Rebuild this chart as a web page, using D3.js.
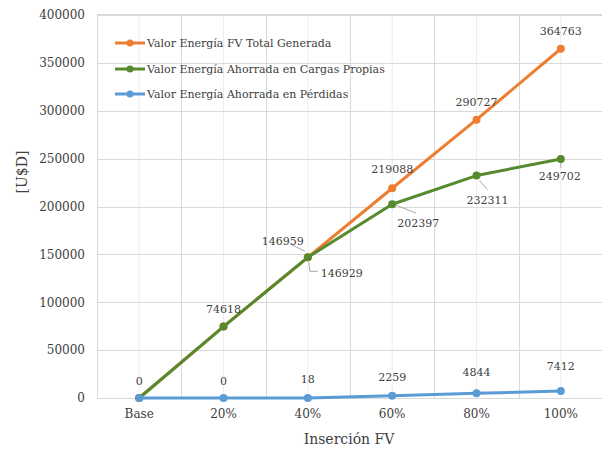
<!DOCTYPE html>
<html>
<head>
<meta charset="utf-8">
<script src="https://cdn.jsdelivr.net/npm/d3@7"></script>
<style>
  html, body { margin: 0; padding: 0; background: #fff; }
  svg { display: block; }
  text { font-family: "DejaVu Serif", "Liberation Serif", serif; fill: #404040; }
</style>
</head>
<body>
<svg id="chart" width="602" height="449"></svg>
<script>
// Categories and series values
const categories = ["Base", "20%", "40%", "60%", "80%", "100%"];
const totalGenerada = [0, 74618, 146959, 219088, 290727, 364763];
const ahorradaCargas = [0, 74618, 146929, 202397, 232311, 249702];
const ahorradaPerdidas = [0, 0, 18, 2259, 4844, 7412];
const yTicks = [0, 50000, 100000, 150000, 200000, 250000, 300000, 350000, 400000];
const seriesNames = [
  "Valor Energía FV Total Generada",
  "Valor Energía Ahorrada en Cargas Propias",
  "Valor Energía Ahorrada en Pérdidas"
];
const seriesColors = ["#ED7D31", "#558A2E", "#5B9BD5"];

const svg = d3.select("#chart");
const margin = { left: 97, top: 14, right: 603, bottom: 398 };

const x = d3.scaleBand().domain(categories).range([margin.left, margin.right]);
const xc = c => x(c) + x.bandwidth() / 2;
const y = d3.scaleLinear().domain([0, 400000]).range([margin.bottom, margin.top + 1]);

// Grid: minor verticals at category centres, major verticals at band edges
const grid = svg.append("g");
grid.selectAll(".vminor").data(categories).enter().append("line")
  .attr("x1", d => xc(d)).attr("x2", d => xc(d))
  .attr("y1", margin.top).attr("y2", margin.bottom)
  .attr("stroke", "#ececec").attr("stroke-width", 1);
const edges = categories.map(c => x(c)).concat([margin.right]);
grid.selectAll(".vmajor").data(edges).enter().append("line")
  .attr("x1", d => Math.round(d) + 0.5).attr("x2", d => Math.round(d) + 0.5)
  .attr("y1", margin.top).attr("y2", margin.bottom)
  .attr("stroke", "#d9d9d9").attr("stroke-width", 1);
grid.selectAll(".hmajor").data(yTicks.slice(1)).enter().append("line")
  .attr("x1", margin.left).attr("x2", margin.right)
  .attr("y1", d => Math.round(y(d)) + 0.5).attr("y2", d => Math.round(y(d)) + 0.5)
  .attr("stroke", "#d9d9d9").attr("stroke-width", 1);
grid.append("line")
  .attr("x1", margin.left).attr("x2", margin.right)
  .attr("y1", margin.top + 0.5).attr("y2", margin.top + 0.5)
  .attr("stroke", "#d9d9d9");

// Y axis
const yAxis = svg.append("g")
  .attr("transform", `translate(${margin.left - 12},0)`)
  .call(d3.axisLeft(y).tickValues(yTicks).tickSize(0).tickPadding(0).tickFormat(d3.format("d")));
yAxis.select(".domain").remove();
yAxis.selectAll("text").attr("font-size", 12).attr("fill", "#404040")
  .attr("font-family", "DejaVu Serif, serif");

// X axis
const xAxis = svg.append("g")
  .attr("transform", `translate(0,${margin.bottom})`)
  .call(d3.axisBottom(x).tickSize(0).tickPadding(11));
xAxis.select(".domain").attr("stroke", "#d9d9d9");
xAxis.selectAll("text").attr("font-size", 12).attr("fill", "#404040")
  .attr("font-family", "DejaVu Serif, serif");

// Axis titles
svg.append("text").attr("x", 349).attr("y", 444).attr("text-anchor", "middle")
  .attr("font-size", 14).text("Inserción FV");
svg.append("text").attr("transform", "translate(27,172) rotate(-90)")
  .attr("text-anchor", "middle").attr("font-size", 14).text("[U$D]");

// Series
const allSeries = [totalGenerada, ahorradaCargas, ahorradaPerdidas];
const line = d3.line().x((d, i) => xc(categories[i])).y(d => y(d));
allSeries.forEach((vals, s) => {
  const g = svg.append("g");
  g.append("path").datum(vals).attr("d", line)
    .attr("fill", "none").attr("stroke", seriesColors[s]).attr("stroke-width", 3)
    .attr("stroke-linejoin", "round");
  g.selectAll("circle").data(vals).enter().append("circle")
    .attr("cx", (d, i) => xc(categories[i])).attr("cy", d => y(d)).attr("r", 4)
    .attr("fill", seriesColors[s]);
});

// Data labels: [series, index, dx, dy, leader]
const labelLayout = [
  [0, 2, -25, -16, [[-3, -6], [-17, -13]]],
  [0, 3, 0, -19, null],
  [0, 4, 0, -17, null],
  [0, 5, 0, -17, null],
  [1, 1, 0, -17, null],
  [1, 2, 34, 16, [[1, 5], [2, 14], [10, 14]]],
  [1, 3, 26, 19, [[4, 1], [24, 9]]],
  [1, 4, 11, 25, [[3, 5], [11, 14]]],
  [1, 5, -1, 18, [[0, 4], [0, 9]]],
  [2, 0, 0, -17, null],
  [2, 1, 0, -17, null],
  [2, 2, 0, -18, null],
  [2, 3, 0, -18, null],
  [2, 4, 0, -21, null],
  [2, 5, 0, -24, null]
];
const labels = svg.append("g");
labelLayout.forEach(([s, i, dx, dy, leader]) => {
  const v = allSeries[s][i];
  const px = xc(categories[i]), py = y(v);
  if (leader) {
    labels.append("polyline")
      .attr("points", leader.map(p => `${px + p[0]},${py + p[1]}`).join(" "))
      .attr("fill", "none").attr("stroke", "#a6a6a6").attr("stroke-width", 1);
  }
  labels.append("text").attr("x", px + dx).attr("y", py + dy)
    .attr("text-anchor", "middle").attr("dominant-baseline", "central")
    .attr("font-size", 11).text(d3.format("d")(v));
});

// Legend
const legend = svg.append("g");
const legendRows = [43, 69, 94];
seriesNames.forEach((name, s) => {
  const ly = legendRows[s];
  legend.append("line").attr("x1", 115).attr("x2", 145).attr("y1", ly).attr("y2", ly)
    .attr("stroke", seriesColors[s]).attr("stroke-width", 3);
  legend.append("circle").attr("cx", 130).attr("cy", ly).attr("r", 3.5).attr("fill", seriesColors[s]);
  legend.append("text").attr("x", 147).attr("y", ly).attr("dominant-baseline", "central")
    .attr("font-size", 11).attr("fill", "#262626").text(name);
});
</script>
</body>
</html>
